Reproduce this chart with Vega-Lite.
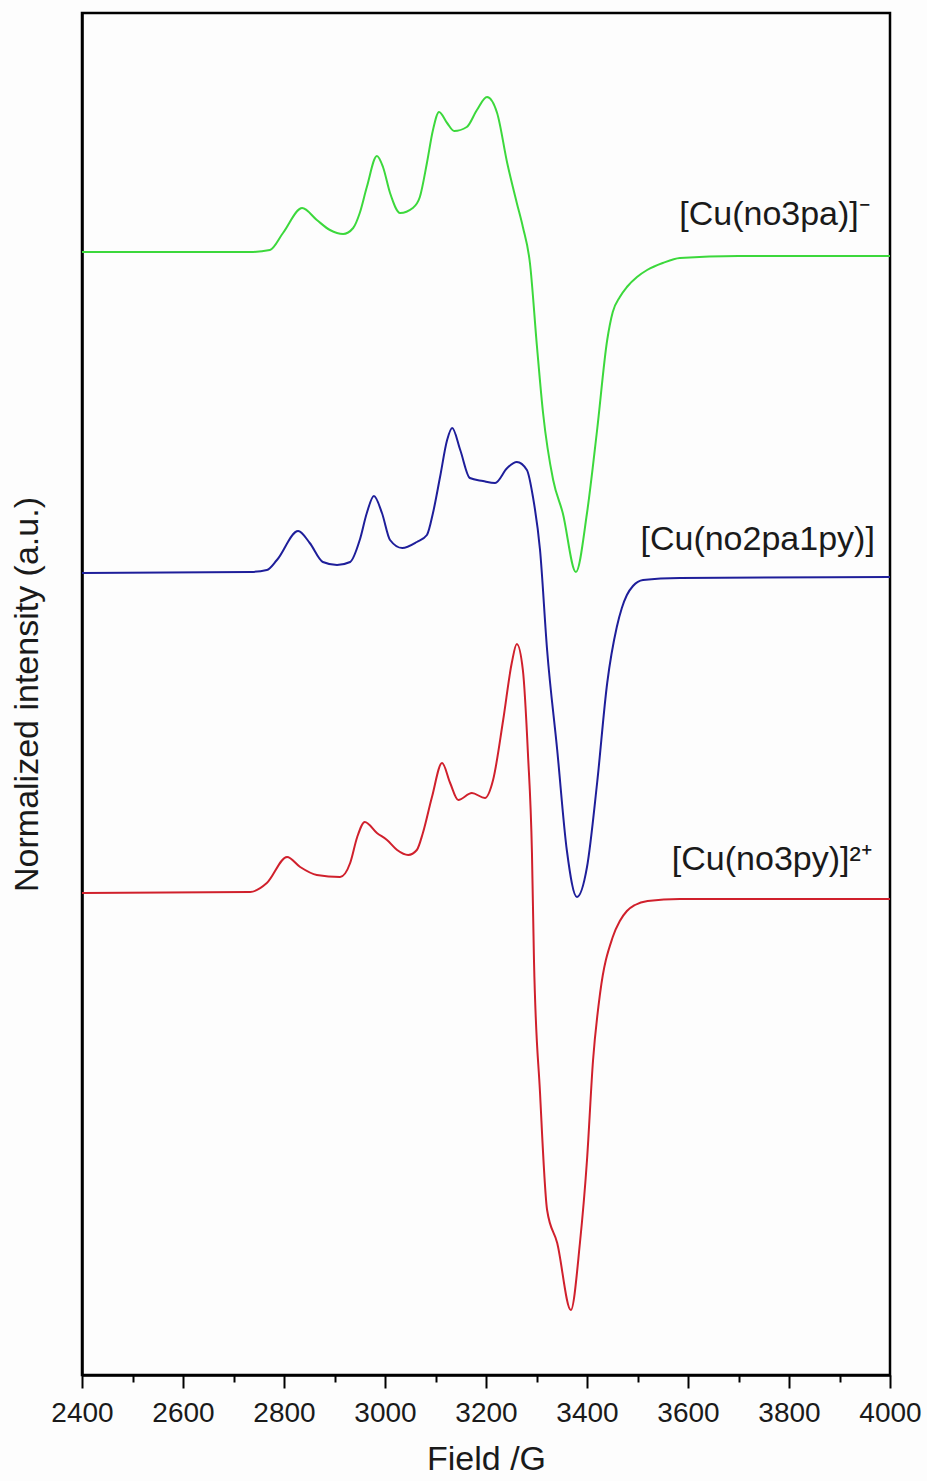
{
  "$schema": "https://vega.github.io/schema/vega-lite/v6.json",
  "width": 808,
  "height": 1362,
  "autosize": {"type": "none"},
  "padding": {"left": 82, "top": 13, "right": 37, "bottom": 106},
  "background": "#fdfdfd",
  "config": {
    "view": {"stroke": "#000000", "strokeWidth": 2.5},
    "font": "Liberation Sans"
  },
  "datasets": {
    "curves": [
      {"series": "green", "field": 2400, "intensity": 1123},
      {"series": "green", "field": 2600, "intensity": 1123},
      {"series": "green", "field": 2733, "intensity": 1123},
      {"series": "green", "field": 2772, "intensity": 1125},
      {"series": "green", "field": 2798, "intensity": 1142},
      {"series": "green", "field": 2836, "intensity": 1167},
      {"series": "green", "field": 2865, "intensity": 1155},
      {"series": "green", "field": 2891, "intensity": 1145},
      {"series": "green", "field": 2917, "intensity": 1141},
      {"series": "green", "field": 2937, "intensity": 1147},
      {"series": "green", "field": 2950, "intensity": 1162},
      {"series": "green", "field": 2964, "intensity": 1188},
      {"series": "green", "field": 2984, "intensity": 1219},
      {"series": "green", "field": 2996, "intensity": 1208},
      {"series": "green", "field": 3010, "intensity": 1182},
      {"series": "green", "field": 3030, "intensity": 1162},
      {"series": "green", "field": 3055, "intensity": 1167},
      {"series": "green", "field": 3069, "intensity": 1178},
      {"series": "green", "field": 3083, "intensity": 1212},
      {"series": "green", "field": 3095, "intensity": 1245},
      {"series": "green", "field": 3107, "intensity": 1263},
      {"series": "green", "field": 3123, "intensity": 1252},
      {"series": "green", "field": 3137, "intensity": 1244},
      {"series": "green", "field": 3162, "intensity": 1248},
      {"series": "green", "field": 3182, "intensity": 1265},
      {"series": "green", "field": 3202, "intensity": 1278},
      {"series": "green", "field": 3222, "intensity": 1262},
      {"series": "green", "field": 3242, "intensity": 1212},
      {"series": "green", "field": 3261, "intensity": 1172},
      {"series": "green", "field": 3273, "intensity": 1148},
      {"series": "green", "field": 3287, "intensity": 1112},
      {"series": "green", "field": 3301, "intensity": 1028},
      {"series": "green", "field": 3313, "intensity": 962},
      {"series": "green", "field": 3333, "intensity": 895},
      {"series": "green", "field": 3352, "intensity": 862},
      {"series": "green", "field": 3378, "intensity": 803},
      {"series": "green", "field": 3400, "intensity": 862},
      {"series": "green", "field": 3420, "intensity": 945},
      {"series": "green", "field": 3440, "intensity": 1035},
      {"series": "green", "field": 3451, "intensity": 1063},
      {"series": "green", "field": 3465, "intensity": 1078},
      {"series": "green", "field": 3479, "intensity": 1088},
      {"series": "green", "field": 3499, "intensity": 1098},
      {"series": "green", "field": 3519, "intensity": 1105},
      {"series": "green", "field": 3550, "intensity": 1112},
      {"series": "green", "field": 3584, "intensity": 1117},
      {"series": "green", "field": 3700, "intensity": 1119},
      {"series": "green", "field": 4000, "intensity": 1119},

      {"series": "blue", "field": 2400, "intensity": 802},
      {"series": "blue", "field": 2733, "intensity": 803},
      {"series": "blue", "field": 2766, "intensity": 805},
      {"series": "blue", "field": 2786, "intensity": 815},
      {"series": "blue", "field": 2828, "intensity": 844},
      {"series": "blue", "field": 2851, "intensity": 832},
      {"series": "blue", "field": 2877, "intensity": 813},
      {"series": "blue", "field": 2905, "intensity": 810},
      {"series": "blue", "field": 2931, "intensity": 813},
      {"series": "blue", "field": 2950, "intensity": 835},
      {"series": "blue", "field": 2964, "intensity": 862},
      {"series": "blue", "field": 2978, "intensity": 879},
      {"series": "blue", "field": 2994, "intensity": 862},
      {"series": "blue", "field": 3010, "intensity": 835},
      {"series": "blue", "field": 3034, "intensity": 827},
      {"series": "blue", "field": 3063, "intensity": 833},
      {"series": "blue", "field": 3083, "intensity": 840},
      {"series": "blue", "field": 3095, "intensity": 862},
      {"series": "blue", "field": 3109, "intensity": 898},
      {"series": "blue", "field": 3123, "intensity": 935},
      {"series": "blue", "field": 3133, "intensity": 947},
      {"series": "blue", "field": 3149, "intensity": 925},
      {"series": "blue", "field": 3168, "intensity": 897},
      {"series": "blue", "field": 3194, "intensity": 894},
      {"series": "blue", "field": 3218, "intensity": 892},
      {"series": "blue", "field": 3242, "intensity": 907},
      {"series": "blue", "field": 3261, "intensity": 913},
      {"series": "blue", "field": 3281, "intensity": 905},
      {"series": "blue", "field": 3293, "intensity": 878},
      {"series": "blue", "field": 3307, "intensity": 825},
      {"series": "blue", "field": 3321, "intensity": 725},
      {"series": "blue", "field": 3341, "intensity": 625},
      {"series": "blue", "field": 3360, "intensity": 525},
      {"series": "blue", "field": 3380, "intensity": 478},
      {"series": "blue", "field": 3400, "intensity": 508},
      {"series": "blue", "field": 3420, "intensity": 592},
      {"series": "blue", "field": 3440, "intensity": 692},
      {"series": "blue", "field": 3459, "intensity": 748},
      {"series": "blue", "field": 3469, "intensity": 767},
      {"series": "blue", "field": 3479, "intensity": 780},
      {"series": "blue", "field": 3491, "intensity": 789},
      {"series": "blue", "field": 3511, "intensity": 795},
      {"series": "blue", "field": 3584, "intensity": 797},
      {"series": "blue", "field": 4000, "intensity": 798},

      {"series": "red", "field": 2400, "intensity": 482},
      {"series": "red", "field": 2733, "intensity": 483},
      {"series": "red", "field": 2766, "intensity": 492},
      {"series": "red", "field": 2806, "intensity": 518},
      {"series": "red", "field": 2832, "intensity": 508},
      {"series": "red", "field": 2865, "intensity": 500},
      {"series": "red", "field": 2911, "intensity": 498},
      {"series": "red", "field": 2931, "intensity": 512},
      {"series": "red", "field": 2945, "intensity": 538},
      {"series": "red", "field": 2960, "intensity": 553},
      {"series": "red", "field": 2984, "intensity": 542},
      {"series": "red", "field": 3004, "intensity": 535},
      {"series": "red", "field": 3024, "intensity": 525},
      {"series": "red", "field": 3046, "intensity": 520},
      {"series": "red", "field": 3063, "intensity": 525},
      {"series": "red", "field": 3075, "intensity": 542},
      {"series": "red", "field": 3093, "intensity": 578},
      {"series": "red", "field": 3113, "intensity": 612},
      {"series": "red", "field": 3129, "intensity": 592},
      {"series": "red", "field": 3145, "intensity": 575},
      {"series": "red", "field": 3172, "intensity": 582},
      {"series": "red", "field": 3198, "intensity": 577},
      {"series": "red", "field": 3214, "intensity": 595},
      {"series": "red", "field": 3234, "intensity": 655},
      {"series": "red", "field": 3251, "intensity": 712},
      {"series": "red", "field": 3261, "intensity": 731},
      {"series": "red", "field": 3273, "intensity": 705},
      {"series": "red", "field": 3283, "intensity": 622},
      {"series": "red", "field": 3291, "intensity": 522},
      {"series": "red", "field": 3295, "intensity": 415},
      {"series": "red", "field": 3307, "intensity": 282},
      {"series": "red", "field": 3321, "intensity": 165},
      {"series": "red", "field": 3341, "intensity": 132},
      {"series": "red", "field": 3368, "intensity": 65},
      {"series": "red", "field": 3386, "intensity": 132},
      {"series": "red", "field": 3400, "intensity": 215},
      {"series": "red", "field": 3412, "intensity": 315},
      {"series": "red", "field": 3426, "intensity": 382},
      {"series": "red", "field": 3451, "intensity": 438},
      {"series": "red", "field": 3465, "intensity": 454},
      {"series": "red", "field": 3479, "intensity": 464},
      {"series": "red", "field": 3495, "intensity": 470},
      {"series": "red", "field": 3520, "intensity": 474},
      {"series": "red", "field": 3584, "intensity": 476},
      {"series": "red", "field": 4000, "intensity": 476}
    ],
    "labels": [
      {"label": "[Cu(no3pa)]⁻", "field": 3960, "intensity": 1160},
      {"label": "[Cu(no2pa1py)]", "field": 3970, "intensity": 835},
      {"label": "[Cu(no3py)]²⁺", "field": 3964, "intensity": 515}
    ]
  },
  "layer": [
    {
      "data": {"name": "curves"},
      "mark": {"type": "line", "strokeWidth": 2, "interpolate": "monotone"},
      "encoding": {
        "x": {
          "field": "field",
          "type": "quantitative",
          "scale": {"domain": [2400, 4000], "nice": false, "zero": false},
          "axis": {
            "title": "Field /G",
            "values": [2400, 2500, 2600, 2700, 2800, 2900, 3000, 3100, 3200, 3300, 3400, 3500, 3600, 3700, 3800, 3900, 4000],
            "format": "d",
            "labelExpr": "datum.value % 200 === 0 ? datum.label : ''",
            "labelOverlap": false,
            "labelFlush": false,
            "grid": false,
            "domainColor": "#000000",
            "domainWidth": 2.5,
            "tickColor": "#000000",
            "tickWidth": 2,
            "tickSize": {"condition": {"test": "datum.value % 200 === 0", "value": 13}, "value": 7},
            "labelFontSize": 28,
            "labelColor": "#1a1a1a",
            "labelPadding": 11,
            "titleFontSize": 34,
            "titleFontWeight": "normal",
            "titleColor": "#1a1a1a",
            "titlePadding": 15
          }
        },
        "y": {
          "field": "intensity",
          "type": "quantitative",
          "scale": {"domain": [0, 1362], "nice": false, "zero": false},
          "axis": {
            "title": "Normalized intensity (a.u.)",
            "labels": false,
            "ticks": false,
            "grid": false,
            "domainColor": "#000000",
            "domainWidth": 2.5,
            "titleFontSize": 34,
            "titleFontWeight": "normal",
            "titleColor": "#1a1a1a",
            "titlePadding": 38
          }
        },
        "color": {
          "field": "series",
          "type": "nominal",
          "scale": {"domain": ["green", "blue", "red"], "range": ["#3cd83c", "#1e1e9a", "#d0202c"]},
          "legend": null
        }
      }
    },
    {
      "data": {"name": "labels"},
      "mark": {"type": "text", "align": "right", "baseline": "middle", "fontSize": 34, "color": "#1a1a1a"},
      "encoding": {
        "x": {"field": "field", "type": "quantitative"},
        "y": {"field": "intensity", "type": "quantitative"},
        "text": {"field": "label"}
      }
    }
  ]
}
